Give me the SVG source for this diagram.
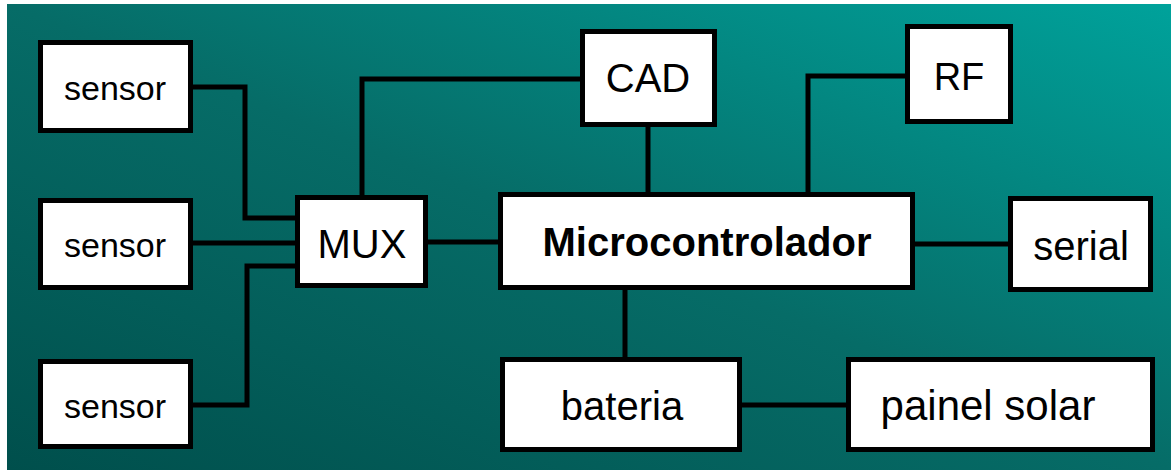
<svg xmlns="http://www.w3.org/2000/svg" width="1171" height="470" viewBox="0 0 1171 470">
<defs>
<linearGradient id="bg" x1="0" y1="1" x2="1" y2="0">
<stop offset="0" stop-color="#004f4c"/>
<stop offset="0.5" stop-color="#066c67"/>
<stop offset="1" stop-color="#00a29b"/>
</linearGradient>
<style>
.box{fill:#ffffff;stroke:#000000;stroke-width:5}
.lbl{font-family:"Liberation Sans",Arial,sans-serif;fill:#000000;text-anchor:middle}
.conn{fill:none;stroke:#000000;stroke-width:5;stroke-linejoin:miter}
</style>
</defs>
<rect x="0" y="0" width="1171" height="470" fill="#ffffff"/>
<rect x="7" y="4" width="1164" height="466" fill="url(#bg)"/>
<g id="connectors" class="conn">
<path d="M193,87 H245 V218 H295"/>
<path d="M193,243 H295"/>
<path d="M193,405 H247 V266 H295"/>
<path d="M362,195 V79 H580"/>
<path d="M428,242 H498"/>
<path d="M648,127 V192"/>
<path d="M808,192 V76 H905"/>
<path d="M915,244 H1008"/>
<path d="M625,290 V357"/>
<path d="M742,405 H846"/>
</g>
<g id="sensor1"><rect class="box" x="40.5" y="42.5" width="150" height="88"/><text class="lbl" x="115" y="100" font-size="34">sensor</text></g>
<g id="sensor2"><rect class="box" x="40.5" y="200.5" width="150" height="87"/><text class="lbl" x="115" y="257" font-size="34">sensor</text></g>
<g id="sensor3"><rect class="box" x="40.5" y="361.5" width="150" height="85"/><text class="lbl" x="115" y="418" font-size="34">sensor</text></g>
<g id="mux"><rect class="box" x="297.5" y="197.5" width="128" height="88"/><text class="lbl" x="362" y="258" font-size="40">MUX</text></g>
<g id="cad"><rect class="box" x="582.5" y="31.5" width="132" height="93"/><text class="lbl" x="648" y="92" font-size="40">CAD</text></g>
<g id="rf"><rect class="box" x="907.5" y="26.5" width="103" height="95"/><text class="lbl" x="959" y="90" font-size="38">RF</text></g>
<g id="microcontrolador"><rect class="box" x="500.5" y="194.5" width="412" height="93"/><text class="lbl" x="707" y="256" font-size="40" font-weight="bold">Microcontrolador</text></g>
<g id="serial"><rect class="box" x="1010.5" y="198.5" width="140" height="91"/><text class="lbl" x="1081" y="260" font-size="40">serial</text></g>
<g id="bateria"><rect class="box" x="502.5" y="359.5" width="237" height="90"/><text class="lbl" x="622" y="420" font-size="40">bateria</text></g>
<g id="painel"><rect class="box" x="848.5" y="359.5" width="304" height="90"/><text class="lbl" x="988" y="420" font-size="42">painel solar</text></g>
</svg>
